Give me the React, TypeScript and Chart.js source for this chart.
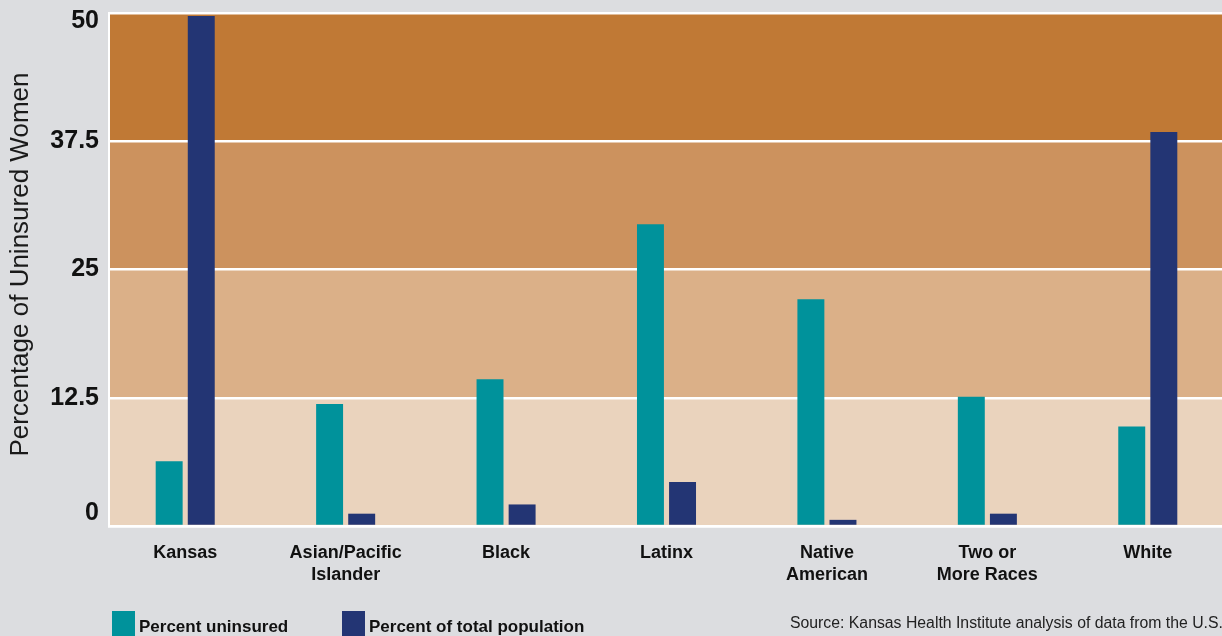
import React, { useEffect, useRef } from "react";
import { Chart, registerables } from "chart.js";

Chart.register(...registerables);

const categories: (string | string[])[] = [
  "Kansas",
  ["Asian/Pacific", "Islander"],
  "Black",
  "Latinx",
  ["Native", "American"],
  ["Two or", "More Races"],
  "White",
];
const percentUninsured = [6.3, 11.9, 14.3, 29.4, 22.1, 12.6, 9.7];
const percentOfPopulation = [49.7, 1.2, 2.1, 4.3, 0.6, 1.2, 38.4];
const yTicks = [0, 12.5, 25, 37.5, 50];
const bandColors = ["#ead3bd", "#dbb088", "#cc925e", "#c07935"];
const seriesNames = ["Percent uninsured", "Percent of total population"];
const seriesColors = ["#00929b", "#233574"];
const yTitle = "Percentage of Uninsured Women";
const sourceText = "Source: Kansas Health Institute analysis of data from the U.S. Census Bureau";

const FONT = "'Liberation Sans', Arial, Helvetica, sans-serif";
const BG = "#dcdde0";
const INSET = 4;

const bandsPlugin = {
  id: "bands",
  beforeDraw(chart: any) {
    const { ctx, chartArea, scales } = chart;
    const y = scales.y;
    ctx.save();
    for (let i = 0; i < bandColors.length; i++) {
      const y0 = y.getPixelForValue(yTicks[i]);
      const y1 = y.getPixelForValue(yTicks[i + 1]);
      ctx.fillStyle = bandColors[i];
      ctx.fillRect(chartArea.left + INSET, y1, chartArea.right - chartArea.left, y0 - y1);
    }
    ctx.restore();
  },
  beforeDatasetsDraw(chart: any) {
    const { ctx, chartArea } = chart;
    ctx.save();
    ctx.fillStyle = BG;
    ctx.fillRect(chartArea.left - 3, chartArea.top - 3, INSET + 2, chartArea.bottom - chartArea.top + 8);
    ctx.strokeStyle = "#ffffff";
    ctx.lineWidth = 2;
    ctx.beginPath();
    ctx.moveTo(chartArea.left + INSET, chartArea.top - 1);
    ctx.lineTo(chartArea.left + INSET, chartArea.bottom + 1);
    ctx.stroke();
    ctx.restore();
  },
  afterDraw(chart: any) {
    const { ctx, chartArea, scales } = chart;
    const y = scales.y;
    const axisX = chartArea.left + INSET;
    ctx.save();
    ctx.fillStyle = "#111";
    ctx.font = `bold 25px ${FONT}`;
    ctx.textAlign = "right";
    ctx.textBaseline = "middle";
    for (const v of yTicks) {
      let py = y.getPixelForValue(v);
      py = Math.max(chartArea.top + 8, Math.min(chartArea.bottom - 13, py));
      ctx.fillText(String(v), axisX - 10, py);
    }
    ctx.translate(28, (chartArea.top + chartArea.bottom) / 2 - 5);
    ctx.rotate(-Math.PI / 2);
    ctx.font = `26px ${FONT}`;
    ctx.textAlign = "center";
    ctx.textBaseline = "alphabetic";
    ctx.fillStyle = "#1a1a1a";
    ctx.fillText(yTitle, 0, 0);
    ctx.restore();
  },
};

export default function App() {
  const ref = useRef<HTMLCanvasElement | null>(null);

  useEffect(() => {
    document.body.style.margin = "0";
    document.body.style.overflow = "hidden";
    document.body.style.background = BG;
    const chart = new Chart(ref.current as HTMLCanvasElement, {
      type: "bar",
      data: {
        labels: categories,
        datasets: [
          {
            label: seriesNames[0],
            data: percentUninsured,
            backgroundColor: seriesColors[0],
            barPercentage: 0.84,
            categoryPercentage: 0.4,
          },
          {
            label: seriesNames[1],
            data: percentOfPopulation,
            backgroundColor: seriesColors[1],
            barPercentage: 0.84,
            categoryPercentage: 0.4,
          },
        ],
      },
      options: {
        animation: false,
        responsive: false,
        maintainAspectRatio: false,
        layout: { padding: { top: 13, left: 0, right: 0, bottom: 0 } },
        plugins: {
          legend: { display: false },
          tooltip: { enabled: false },
        },
        scales: {
          x: {
            grid: { display: false },
            border: { display: true, color: "#ffffff", width: 2.5 },
            ticks: {
              color: "#111",
              font: { family: FONT, size: 18, weight: "bold", lineHeight: "22px" } as any,
              padding: 8,
              maxRotation: 0,
              autoSkip: false,
            },
            afterFit(scale: any) {
              scale.height = 110;
            },
          },
          y: {
            min: 0,
            max: 50,
            afterBuildTicks(scale: any) {
              scale.ticks = yTicks.map((v) => ({ value: v }));
            },
            grid: { color: "#ffffff", lineWidth: 2.5, drawTicks: false },
            border: { display: false },
            ticks: { display: false },
            afterFit(scale: any) {
              scale.width = 109 - INSET;
            },
          },
        },
      },
      plugins: [bandsPlugin],
    });
    return () => chart.destroy();
  }, []);

  const legendText: React.CSSProperties = {
    position: "absolute",
    top: 616,
    fontFamily: FONT,
    fontWeight: "bold",
    fontSize: 17,
    lineHeight: "22px",
    color: "#111",
    whiteSpace: "nowrap",
  };

  return (
    <div style={{ position: "relative", width: 1222, height: 636, overflow: "hidden", background: BG }}>
      <canvas ref={ref} width={1228} height={636} style={{ position: "absolute", left: 0, top: 0, width: 1228, height: 636 }} />
      <div style={{ position: "absolute", left: 112, top: 611, width: 23, height: 30, background: seriesColors[0] }} />
      <div style={{ ...legendText, left: 139 }}>{seriesNames[0]}</div>
      <div style={{ position: "absolute", left: 342, top: 611, width: 23, height: 30, background: seriesColors[1] }} />
      <div style={{ ...legendText, left: 369 }}>{seriesNames[1]}</div>
      <div
        style={{
          position: "absolute",
          left: 790,
          top: 613,
          fontFamily: FONT,
          fontSize: 15.8,
          lineHeight: "20px",
          color: "#222",
          whiteSpace: "nowrap",
        }}
      >
        {sourceText}
      </div>
    </div>
  );
}
